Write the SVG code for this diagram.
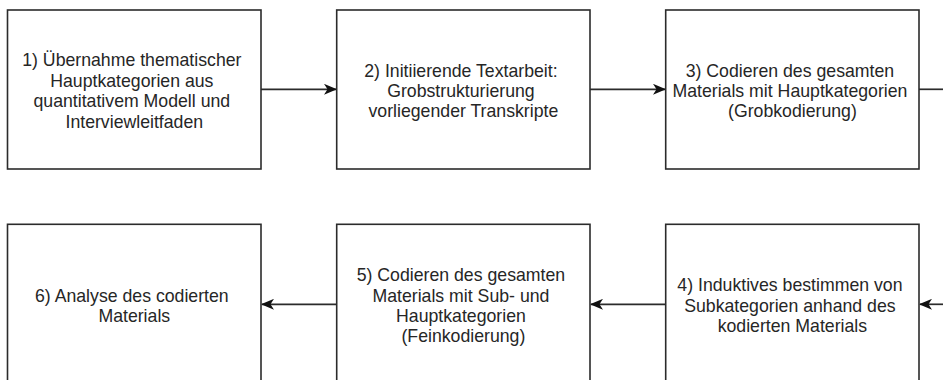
<svg xmlns="http://www.w3.org/2000/svg" width="943" height="380" viewBox="0 0 943 380">
  <style>
    .box { fill: #ffffff; stroke: #2b2b2b; stroke-width: 1.6; }
    .lbl { font-family: "Liberation Sans", Arial, Helvetica, sans-serif; font-size: 17.7px; fill: #262626; text-anchor: middle; }
    .edge { fill: none; stroke: #2b2b2b; stroke-width: 1.7; }
  </style>
  <defs>
    <marker id="arrow" viewBox="0 0 13 11" refX="12" refY="5.5" markerWidth="13" markerHeight="11" markerUnits="userSpaceOnUse" orient="auto">
      <path d="M0,0 L13,5.5 L0,11 L3.5,5.5 Z" fill="#111111"/>
    </marker>
  </defs>
  <rect width="943" height="380" fill="#ffffff"/>

  <g id="connectors">
    <line class="edge" x1="261" y1="89.3" x2="336" y2="89.3" marker-end="url(#arrow)"/>
    <line class="edge" x1="590" y1="89.3" x2="665" y2="89.3" marker-end="url(#arrow)"/>
    <line class="edge" x1="919" y1="89.3" x2="945" y2="89.3"/>
    <line class="edge" x1="945" y1="304.3" x2="920" y2="304.3" marker-end="url(#arrow)"/>
    <line class="edge" x1="665.5" y1="304.3" x2="591" y2="304.3" marker-end="url(#arrow)"/>
    <line class="edge" x1="336.5" y1="304.3" x2="262" y2="304.3" marker-end="url(#arrow)"/>
  </g>

  <g id="step1">
    <rect class="box" x="7.5" y="10" width="253.5" height="159"/>
    <text class="lbl">
      <tspan x="134.3" y="66.4">1) Übernahme thematischer</tspan>
      <tspan x="134.3" y="86.8">Hauptkategorien aus</tspan>
      <tspan x="134.3" y="107.2">quantitativem Modell und</tspan>
      <tspan x="134.3" y="127.6">Interviewleitfaden</tspan>
    </text>
  </g>

  <g id="step2">
    <rect class="box" x="336.7" y="10" width="253.3" height="159"/>
    <text class="lbl">
      <tspan x="463.4" y="76.6">2) Initiierende Textarbeit:</tspan>
      <tspan x="463.4" y="97">Grobstrukturierung</tspan>
      <tspan x="463.4" y="117.4">vorliegender Transkripte</tspan>
    </text>
  </g>

  <g id="step3">
    <rect class="box" x="665.7" y="10" width="253.3" height="159"/>
    <text class="lbl">
      <tspan x="792.4" y="76.6">3) Codieren des gesamten</tspan>
      <tspan x="792.4" y="97">Materials mit Hauptkategorien</tspan>
      <tspan x="792.4" y="117.4">(Grobkodierung)</tspan>
    </text>
  </g>

  <g id="step4">
    <rect class="box" x="665.7" y="224.3" width="253.3" height="170"/>
    <text class="lbl">
      <tspan x="792.4" y="291.3">4) Induktives bestimmen von</tspan>
      <tspan x="792.4" y="311.7">Subkategorien anhand des</tspan>
      <tspan x="792.4" y="332.1">kodierten Materials</tspan>
    </text>
  </g>

  <g id="step5">
    <rect class="box" x="336.7" y="224.3" width="253.3" height="170"/>
    <text class="lbl">
      <tspan x="463.4" y="281.1">5) Codieren des gesamten</tspan>
      <tspan x="463.4" y="301.5">Materials mit Sub- und</tspan>
      <tspan x="463.4" y="321.9">Hauptkategorien</tspan>
      <tspan x="463.4" y="342.3">(Feinkodierung)</tspan>
    </text>
  </g>

  <g id="step6">
    <rect class="box" x="7.5" y="224.3" width="253.5" height="170"/>
    <text class="lbl">
      <tspan x="134.3" y="301.5">6) Analyse des codierten</tspan>
      <tspan x="134.3" y="321.9">Materials</tspan>
    </text>
  </g>
</svg>
